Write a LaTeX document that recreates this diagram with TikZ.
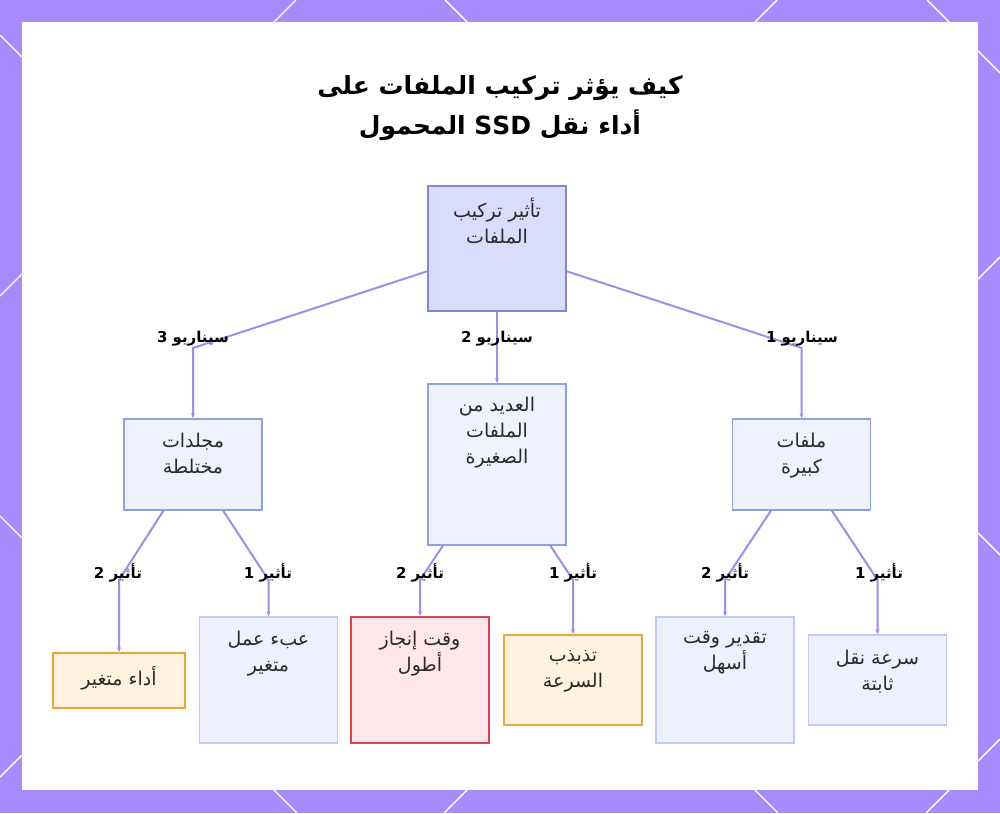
\documentclass[tikz,border=0pt]{standalone}
\usepackage{fontspec}
\usepackage{tikz}
\usetikzlibrary{arrows.meta,positioning}
\TeXXeTstate=1
\newfontfamily\arabicfont[Script=Arabic]{DejaVu Sans}
\newcommand{\ar}[1]{\beginR #1\endR}

\definecolor{framepurple}{HTML}{A78BFA}
\definecolor{linkpurple}{HTML}{A38CE4}
\definecolor{rootfill}{HTML}{DADCFB}
\definecolor{rootline}{HTML}{7F88DB}
\definecolor{midfill}{HTML}{EEF2FD}
\definecolor{midline}{HTML}{8EA2E2}
\definecolor{bluefill}{HTML}{EEF0FD}
\definecolor{blueline}{HTML}{C3C9F4}
\definecolor{orangefill}{HTML}{FFF3E0}
\definecolor{orangeline}{HTML}{E8A73A}
\definecolor{redfill}{HTML}{FFE6EA}
\definecolor{redline}{HTML}{D84552}
\definecolor{textgray}{HTML}{2A2A2A}

\tikzset{
  box/.style={draw, line width=1.6pt, inner sep=0pt, minimum width=138, text width=0pt},
  rootbox/.style={box, fill=rootfill, draw=rootline, minimum height=125},
  midbox/.style={box, fill=midfill, draw=midline},
  bluebox/.style={box, fill=bluefill, draw=blueline},
  orangebox/.style={box, fill=orangefill, draw=orangeline},
  redbox/.style={box, fill=redfill, draw=redline},
  boxtext/.style={font=\arabicfont\fontsize{19}{26}\selectfont, text=textgray, align=center, inner sep=0pt},
  edgelabel/.style={font=\arabicfont\bfseries\fontsize{15}{17}\selectfont, text=black, inner sep=0pt},
  conn/.style={draw=linkpurple, line width=2pt, -{Stealth[length=5pt,width=4pt]}},
  title/.style={font=\arabicfont\bfseries\fontsize{25}{40}\selectfont, text=black, align=center}
}

\begin{document}
\begin{tikzpicture}[x=1pt, y=-1pt]
  \useasboundingbox (0,0) rectangle (1000,813);
  % frame
  \fill[framepurple] (0,0) rectangle (1000,813);
  \foreach \ax/\ay/\bx/\by in {296/0/0/296, 0/516/297/813, 445/0/1000/555, 1000/257/444/813,
                               777/0/0/777, 0/35/778/813, 927/0/1000/73, 1000/739/926/813}
    \draw[white, line width=1.4pt] (\ax,\ay) -- (\bx,\by);
  \fill[white] (22,22) rectangle (978,790);

  % title
  \node[title] (heading) at (500,108) {\ar{كيف يؤثر تركيب الملفات على}\\\ar{أداء نقل \beginL SSD\endL{} المحمول}};

  % boxes
  \node[rootbox] (root) at (497,248.5) {};
  \node[boxtext, below=13pt of root.north] {\ar{تأثير تركيب}\\\ar{الملفات}};

  \node[midbox, minimum height=91] (mixed) at (193,464.5) {};
  \node[boxtext, below=15pt of mixed.north] {\ar{مجلدات}\\\ar{مختلطة}};
  \node[midbox, minimum height=161] (small) at (497,464.5) {};
  \node[boxtext, below=14pt of small.north] {\ar{العديد من}\\\ar{الملفات}\\\ar{الصغيرة}};
  \node[midbox, minimum height=91] (large) at (801.5,464.5) {};
  \node[boxtext, below=15pt of large.north] {\ar{ملفات}\\\ar{كبيرة}};

  \node[orangebox, minimum width=132, minimum height=55] (varperf) at (119,680.5) {};
  \node[boxtext, below=14pt of varperf.north] {\ar{أداء متغير}};
  \node[bluebox, minimum height=126] (workload) at (268.5,680) {};
  \node[boxtext, below=15pt of workload.north] {\ar{عبء عمل}\\\ar{متغير}};
  \node[redbox, minimum height=126] (slower) at (420,680) {};
  \node[boxtext, below=15pt of slower.north] {\ar{وقت إنجاز}\\\ar{أطول}};
  \node[orangebox, minimum height=90] (jitter) at (573,680) {};
  \node[boxtext, below=16pt of jitter.north] {\ar{تذبذب}\\\ar{السرعة}};
  \node[bluebox, minimum height=126] (estimate) at (725,680) {};
  \node[boxtext, below=15pt of estimate.north] {\ar{تقدير وقت}\\\ar{أسهل}};
  \node[bluebox, minimum height=90] (steady) at (877.5,680) {};
  \node[boxtext, below=16pt of steady.north] {\ar{سرعة نقل}\\\ar{ثابتة}};

  % bends
  \coordinate (bend3) at (193,348);
  \coordinate (bend1) at (801.5,348);
  \coordinate (bendA2) at (119,580);
  \coordinate (bendA1) at (268.5,580);
  \coordinate (bendB2) at (420,580);
  \coordinate (bendB1) at (573,580);
  \coordinate (bendC2) at (725,580);
  \coordinate (bendC1) at (877.5,580);

  % connectors
  \draw[conn] (root) -- (bend3) -- (mixed);
  \draw[conn] (root) -- (small);
  \draw[conn] (root) -- (bend1) -- (large);
  \draw[conn] (mixed) -- (bendA2) -- (varperf);
  \draw[conn] (mixed) -- (bendA1) -- (workload);
  \draw[conn] (small) -- (bendB2) -- (slower);
  \draw[conn] (small) -- (bendB1) -- (jitter);
  \draw[conn] (large) -- (bendC2) -- (estimate);
  \draw[conn] (large) -- (bendC1) -- (steady);

  % labels
  \node[edgelabel] (scen3) at (193,339) {\ar{سيناريو 3}};
  \node[edgelabel] (scen2) at (497,339) {\ar{سيناريو 2}};
  \node[edgelabel] (scen1) at (802,339) {\ar{سيناريو 1}};
  \node[edgelabel] (effA2) at (118,573) {\ar{تأثير 2}};
  \node[edgelabel] (effA1) at (268,573) {\ar{تأثير 1}};
  \node[edgelabel] (effB2) at (420,573) {\ar{تأثير 2}};
  \node[edgelabel] (effB1) at (573,573) {\ar{تأثير 1}};
  \node[edgelabel] (effC2) at (725,573) {\ar{تأثير 2}};
  \node[edgelabel] (effC1) at (879,573) {\ar{تأثير 1}};
\end{tikzpicture}
\end{document}
